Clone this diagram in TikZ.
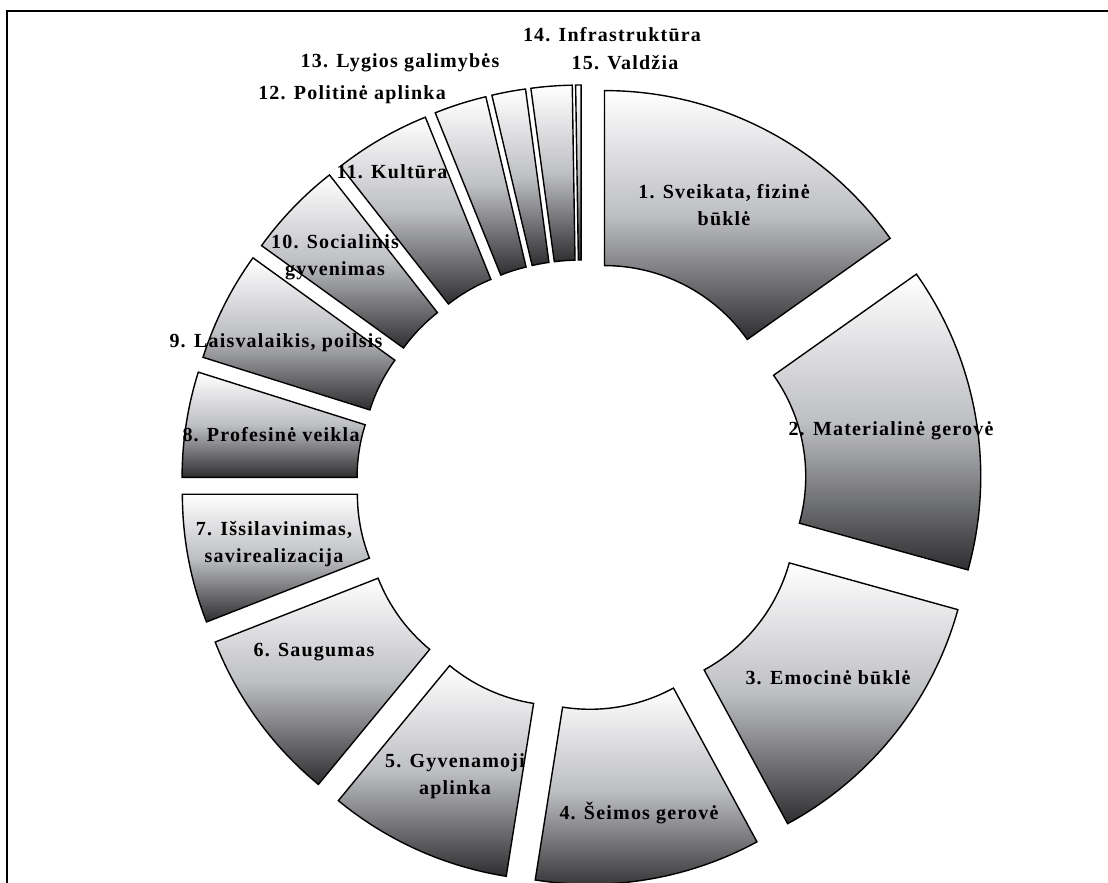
\documentclass[tikz,border=0pt]{standalone}
\usepackage{fontspec}
\setmainfont{Liberation Serif}
\newfontfamily\lblfont[LetterSpace=6]{Liberation Serif}
\definecolor{segmid}{RGB}{190,191,195}
\definecolor{segdark}{RGB}{46,46,48}
\tikzset{
  segment/.style={draw=black, line width=1.4pt, line join=miter,
    top color=white, bottom color=segdark, middle color=segmid},
  lbl/.style={font=\lblfont\bfseries\fontsize{20}{27}\selectfont, align=center, text=black, inner sep=0pt},
  frameline/.style={line width=2pt, draw=black}
}
\newcommand\donutseg[2]{%
  \pgfmathsetmacro\segbis{(#1+#2)/2}%
  \begin{scope}[shift={(\segbis:50pt)}]
    \path[segment] (#1:350pt) arc[start angle=#1, end angle=#2, radius=350pt]
      -- (#2:175pt) arc[start angle=#2, end angle=#1, radius=175pt] -- cycle;
  \end{scope}}
\begin{document}
\begin{tikzpicture}[x=1pt,y=1pt]
\useasboundingbox (0,0) rectangle (1108,883);
\coordinate (tl) at (7,871.5);
\coordinate (tr) at (1108,871.5);
\coordinate (bl) at (7,0);
\draw[frameline] (tr) -- (tl) -- (bl);
\begin{scope}[shift={(581.5,398)}]
  \donutseg{90}{35.3}
  \donutseg{35.3}{-15.5}
  \donutseg{-15.5}{-61.5}
  \donutseg{-61.5}{-99}
  \donutseg{-99}{-129.5}
  \donutseg{-129.5}{-158.6}
  \donutseg{-158.6}{-180}
  \donutseg{180}{162.5}
  \donutseg{162.5}{144.2}
  \donutseg{144.2}{128.1}
  \donutseg{128.1}{112}
  \donutseg{112}{103.3}
  \donutseg{103.3}{97.7}
  \donutseg{97.7}{90.9}
  \donutseg{90.9}{90}
\end{scope}
\node[lbl] (l1) at (724,678) {1. Sveikata, fizinė\\būklė};
\node[lbl] (l2) at (891,452) {2. Materialinė gerovė};
\node[lbl] (l3) at (828,205) {3. Emocinė būklė};
\node[lbl] (l4) at (639,70) {4. Šeimos gerovė};
\node[lbl] (l5) at (455,107) {5. Gyvenamoji\\aplinka};
\node[lbl] (l6) at (314,231) {6. Saugumas};
\node[lbl] (l7) at (274,339) {7. Išsilavinimas,\\savirealizacija};
\node[lbl] (l8) at (271,448) {8. Profesinė veikla};
\node[lbl] (l9) at (276,540) {9. Laisvalaikis, poilsis};
\node[lbl] (l10) at (335,626) {10. Socialinis\\gyvenimas};
\node[lbl] (l11) at (392,711) {11. Kultūra};
\node[lbl] (l12) at (352,788) {12. Politinė aplinka};
\node[lbl] (l13) at (400,820) {13. Lygios galimybės};
\node[lbl] (l14) at (612,848) {14. Infrastruktūra};
\node[lbl] (l15) at (625,820) {15. Valdžia};
\end{tikzpicture}
\end{document}
